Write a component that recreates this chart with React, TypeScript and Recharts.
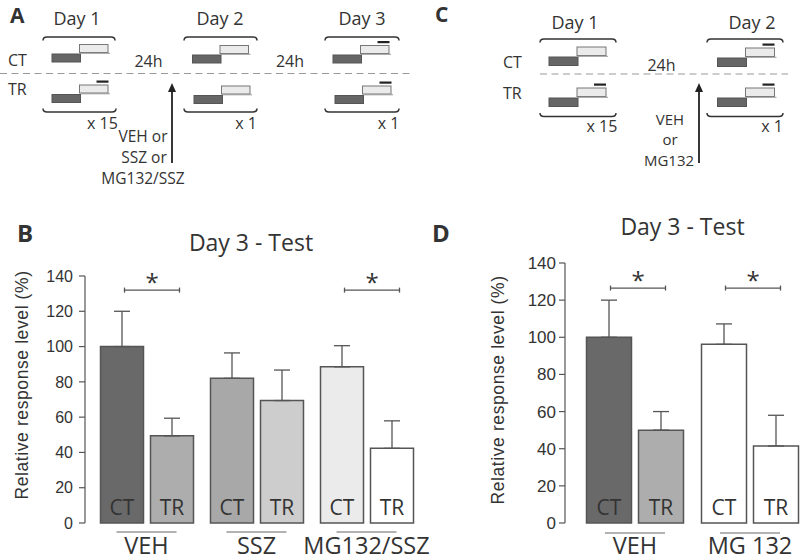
import React from 'react';
import { BarChart, Bar, XAxis, YAxis, ErrorBar, Cell, LabelList } from 'recharts';

// ---------- data ----------
const bCategories = ['VEH', 'SSZ', 'MG132/SSZ'];
const bCtValues = [100, 82, 88.5];
const bCtErrors = [20, 14.4, 12];
const bTrValues = [49.4, 69.4, 42.3];
const bTrErrors = [10, 17.3, 15.6];
const bSignificant = [true, false, true];

const dCategories = ['VEH', 'MG 132'];
const dCtValues = [100, 96.2];
const dCtErrors = [20, 11];
const dTrValues = [50, 41.5];
const dTrErrors = [10, 16.5];
const dSignificant = [true, true];

const yTicks = [0, 20, 40, 60, 80, 100, 120, 140];
const ctLabel = 'CT';
const trLabel = 'TR';

// ---------- styles ----------
const bCtColors = ['#696969', '#a8a8a8', '#ebebeb'];
const bTrColors = ['#adadad', '#cdcdcd', '#ffffff'];
const dCtColors = ['#696969', '#ffffff'];
const dTrColors = ['#adadad', '#ffffff'];

const FONT = '"Open Sans", "Noto Sans", sans-serif';
const AXFONT = '"Liberation Sans", Arial, sans-serif';
const INK = '#333';
const EDGE = '#555';

const buildRows = (
  cats: string[], ct: number[], ctErr: number[], tr: number[], trErr: number[], sig: boolean[]
) =>
  cats.map((name, i) => ({
    name,
    ct: ct[i],
    ctErr: [0, ctErr[i]],
    tr: tr[i],
    trErr: [0, trErr[i]],
    sig: sig[i],
  }));

const bRows = buildRows(bCategories, bCtValues, bCtErrors, bTrValues, bTrErrors, bSignificant);
const dRows = buildRows(dCategories, dCtValues, dCtErrors, dTrValues, dTrErrors, dSignificant);

const makeBarLabel = (text: string, rows: any[], sigLevel: number | null) => (props: any) => {
  const vb = props.viewBox ?? props;
  const x = Number(vb.x ?? props.x);
  const y = Number(vb.y ?? props.y);
  const width = Number(vb.width ?? props.width);
  const height = Number(vb.height ?? props.height);
  const value = Number(props.value);
  const index = props.index;
  const base = y + height;
  const cx = x + width / 2;
  let bracket = null;
  if (sigLevel !== null && index !== undefined && rows[index] && rows[index].sig && value > 0) {
    const py = base - (sigLevel * height) / value;
    const x0 = x + 24;
    const x1 = x + 79;
    bracket = (
      <g>
        <line x1={x0} x2={x1} y1={py} y2={py} stroke={EDGE} strokeWidth={1.3} />
        <line x1={x0} x2={x0} y1={py - 2.5} y2={py + 2.5} stroke={EDGE} strokeWidth={1.3} />
        <line x1={x1} x2={x1} y1={py - 2.5} y2={py + 2.5} stroke={EDGE} strokeWidth={1.3} />
        <text x={(x0 + x1) / 2} y={py + 1} textAnchor="middle" fontSize={24} fill={INK} fontFamily={FONT}>*</text>
      </g>
    );
  }
  return (
    <g>
      <text x={cx} y={base - 8} textAnchor="middle" fontSize={21} fill={INK} fontFamily={FONT}>{text}</text>
      {bracket}
    </g>
  );
};

const GroupTick = (props: any) => {
  const { x, y, payload, lineDy, textDy } = props;
  return (
    <g>
      <line x1={x - 30} x2={x + 30} y1={y + lineDy} y2={y + lineDy} stroke="#666" strokeWidth={1.2} />
      <text x={x} y={y + textDy} textAnchor="middle" fontSize={23.5} fill={INK} fontFamily={FONT}>
        {payload.value}
      </text>
    </g>
  );
};

const yLabel = (cx: number, cy: number) => () => (
  <text
    x={cx}
    y={cy}
    transform={`rotate(-90 ${cx} ${cy})`}
    textAnchor="middle"
    dominantBaseline="central"
    fontSize={17.5}
    letterSpacing={0.6}
    fill={INK}
    fontFamily={AXFONT}
  >
    Relative response level (%)
  </text>
);

type PanelProps = {
  rows: any[];
  ctColors: string[];
  trColors: string[];
  width: number;
  marginTop: number;
  marginRight: number;
  axisWidth: number;
  padLeft: number;
  barSize: number;
  sigLevel: number;
  labelX: number;
  labelY: number;
  lineDy: number;
  textDy: number;
  tickFont: number;
  tickGap: number;
};

const Panel = (p: PanelProps) => (
  <BarChart
    width={p.width}
    height={560}
    data={p.rows}
    margin={{ top: p.marginTop, right: p.marginRight, left: 0, bottom: 0 }}
    barSize={p.barSize}
    barGap={7}
  >
    <XAxis
      dataKey="name"
      axisLine={false}
      tickLine={false}
      tickSize={0}
      tickMargin={0}
      height={37}
      interval={0}
      padding={{ left: p.padLeft, right: 0 }}
      tick={(tp: any) => <GroupTick {...tp} lineDy={p.lineDy} textDy={p.textDy} />}
    />
    <YAxis
      width={p.axisWidth}
      domain={[0, 140]}
      ticks={yTicks}
      interval={0}
      tickSize={6}
      tickMargin={p.tickGap}
      axisLine={{ stroke: EDGE, strokeWidth: 1.2 }}
      tickLine={{ stroke: EDGE, strokeWidth: 1.2 }}
      tick={{ fill: INK, fontSize: p.tickFont, fontFamily: AXFONT }}
      label={{ content: yLabel(p.labelX, p.labelY) }}
    />
    <Bar dataKey="ct" isAnimationActive={false} stroke={EDGE} strokeWidth={1.5}>
      {p.rows.map((r, i) => (
        <Cell key={`ct-${r.name}`} fill={p.ctColors[i]} />
      ))}
      <ErrorBar dataKey="ctErr" width={8} stroke={EDGE} strokeWidth={1.3} direction="y" />
      <LabelList dataKey="ct" content={makeBarLabel(ctLabel, p.rows, p.sigLevel)} />
    </Bar>
    <Bar dataKey="tr" isAnimationActive={false} stroke={EDGE} strokeWidth={1.5}>
      {p.rows.map((r, i) => (
        <Cell key={`tr-${r.name}`} fill={p.trColors[i]} />
      ))}
      <ErrorBar dataKey="trErr" width={8} stroke={EDGE} strokeWidth={1.3} direction="y" />
      <LabelList dataKey="tr" content={makeBarLabel(trLabel, p.rows, null)} />
    </Bar>
  </BarChart>
);

// ---------- schematic helpers ----------
const Trial = ({ x, y, dash, w = 28.5, h = 8 }: { x: number; y: number; dash?: boolean; w?: number; h?: number }) => (
  <g>
    <rect x={x + w - 1} y={y} width={w} height={h} fill="#ebebeb" stroke="#777" strokeWidth={1} />
    <line x1={x + w} x2={x + 2 * w + 1} y1={y + h + 0.8} y2={y + h + 0.8} stroke="#999" strokeWidth={1} />
    <rect x={x} y={y + h + 1.5} width={w} height={h} fill="#666" stroke="#555" strokeWidth={1} />
    {dash ? <rect x={x + w + 16} y={y - 4.5} width={12} height={2.2} fill="#222" /> : null}
  </g>
);

const Brace = ({ x0, x1, y, dir }: { x0: number; x1: number; y: number; dir: number }) => (
  <path
    d={`M ${x0} ${y + 3.5 * dir} Q ${x0} ${y} ${x0 + 4} ${y} L ${x1 - 4} ${y} Q ${x1} ${y} ${x1} ${y + 3.5 * dir}`}
    fill="none"
    stroke="#333"
    strokeWidth={1.5}
  />
);

const Arrow = ({ x, tip, bottom }: { x: number; tip: number; bottom: number }) => (
  <g>
    <line x1={x} x2={x} y1={tip + 6} y2={bottom} stroke="#222" strokeWidth={1.8} />
    <path d={`M ${x} ${tip} L ${x - 4} ${tip + 9} L ${x + 4} ${tip + 9} Z`} fill="#222" />
  </g>
);

const T = ({ x, y, size = 16, anchor = 'middle', weight = 400, children }: any) => (
  <text x={x} y={y} fontSize={size} textAnchor={anchor} fontWeight={weight} fill={INK} fontFamily={FONT}>
    {children}
  </text>
);

const Overlay = () => (
  <svg width={800} height={560} style={{ position: 'absolute', left: 0, top: 0, pointerEvents: 'none' }}>
    {/* Panel A */}
    <T x={10} y={23} size={21} anchor="start" weight={700}>A</T>
    <T x={77} y={25} size={18}>Day 1</T>
    <T x={220} y={25} size={18}>Day 2</T>
    <T x={362} y={25} size={18}>Day 3</T>
    <Brace x0={43} x1={115} y={37} dir={1} />
    <Brace x0={184} x1={257} y={37} dir={1} />
    <Brace x0={325} x1={399} y={37} dir={1} />
    <Brace x0={43} x1={116} y={112} dir={-1} />
    <Brace x0={184} x1={257} y={112} dir={-1} />
    <Brace x0={325} x1={399} y={112} dir={-1} />
    <T x={8} y={66} anchor="start">CT</T>
    <T x={8} y={95} anchor="start">TR</T>
    <line x1={0} x2={414} y1={73.5} y2={73.5} stroke="#9a9a9a" strokeWidth={1.2} strokeDasharray="7 4.5" />
    <Trial x={52} y={44.5} />
    <Trial x={52} y={85} dash />
    <Trial x={192.5} y={45.5} />
    <Trial x={194} y={86} />
    <Trial x={333} y={45.5} dash />
    <Trial x={335} y={86} dash />
    <T x={148.5} y={67}>24h</T>
    <T x={290} y={67}>24h</T>
    <T x={102.5} y={129}>x 15</T>
    <T x={246} y={129}>x 1</T>
    <T x={388.5} y={129}>x 1</T>
    <Arrow x={172} tip={83} bottom={163} />
    <T x={143} y={142} size={15.5}>VEH or</T>
    <T x={144} y={163} size={15.5}>SSZ or</T>
    <T x={143} y={183.5} size={15.5}>MG132/SSZ</T>

    {/* Panel C */}
    <T x={435} y={22} size={21} anchor="start" weight={700}>C</T>
    <T x={575} y={28.5} size={18}>Day 1</T>
    <T x={752} y={28.5} size={18}>Day 2</T>
    <Brace x0={540} x1={616} y={39} dir={1} />
    <Brace x0={707} x1={783} y={39} dir={1} />
    <Brace x0={540} x1={616} y={116.5} dir={-1} />
    <Brace x0={707} x1={783} y={116.5} dir={-1} />
    <T x={503} y={68} anchor="start">CT</T>
    <T x={503} y={99} anchor="start">TR</T>
    <line x1={540} x2={788} y1={74} y2={74} stroke="#9a9a9a" strokeWidth={1.2} strokeDasharray="7 4.5" />
    <Trial x={549} y={47} w={29} h={8.5} />
    <Trial x={549} y={88} w={29} h={8.5} dash />
    <Trial x={717.5} y={48} w={29} h={8.5} dash />
    <Trial x={717.5} y={88} w={29} h={8.5} dash />
    <T x={661.5} y={71}>24h</T>
    <T x={602} y={132}>x 15</T>
    <T x={772} y={132}>x 1</T>
    <Arrow x={699} tip={83} bottom={163} />
    <T x={670} y={124.5} size={15}>VEH</T>
    <T x={670} y={145} size={15}>or</T>
    <T x={669} y={165.5} size={15}>MG132</T>

    {/* Panel B / D headings */}
    <T x={17} y={242} size={24} anchor="start" weight={700}>B</T>
    <T x={251} y={250.5} size={23}>Day 3 - Test</T>
    <T x={432} y={242} size={24} anchor="start" weight={700}>D</T>
    <T x={682.5} y={235} size={23}>Day 3 - Test</T>
  </svg>
);

export default function App() {
  return (
    <div
      style={{
        position: 'absolute',
        left: 0,
        top: 0,
        width: 800,
        height: 560,
        overflow: 'hidden',
        background: '#fff',
        fontFamily: FONT,
      }}
    >
      <div style={{ position: 'absolute', left: 0, top: 0 }}>
        <Panel
          rows={bRows}
          ctColors={bCtColors}
          trColors={bTrColors}
          width={440}
          marginTop={276}
          marginRight={18.5}
          axisWidth={85}
          padLeft={6.5}
          barSize={43}
          sigLevel={132}
          labelX={22}
          labelY={385}
          lineDy={9}
          textDy={31}
          tickFont={16}
          tickGap={6}
        />
      </div>
      <div style={{ position: 'absolute', left: 440, top: 0 }}>
        <Panel
          rows={dRows}
          ctColors={dCtColors}
          trColors={dTrColors}
          width={370}
          marginTop={263}
          marginRight={2.5}
          axisWidth={125}
          padLeft={12.5}
          barSize={45}
          sigLevel={126.5}
          labelX={58}
          labelY={390}
          lineDy={10}
          textDy={31}
          tickFont={17}
          tickGap={3}
        />
      </div>
      <Overlay />
    </div>
  );
}
